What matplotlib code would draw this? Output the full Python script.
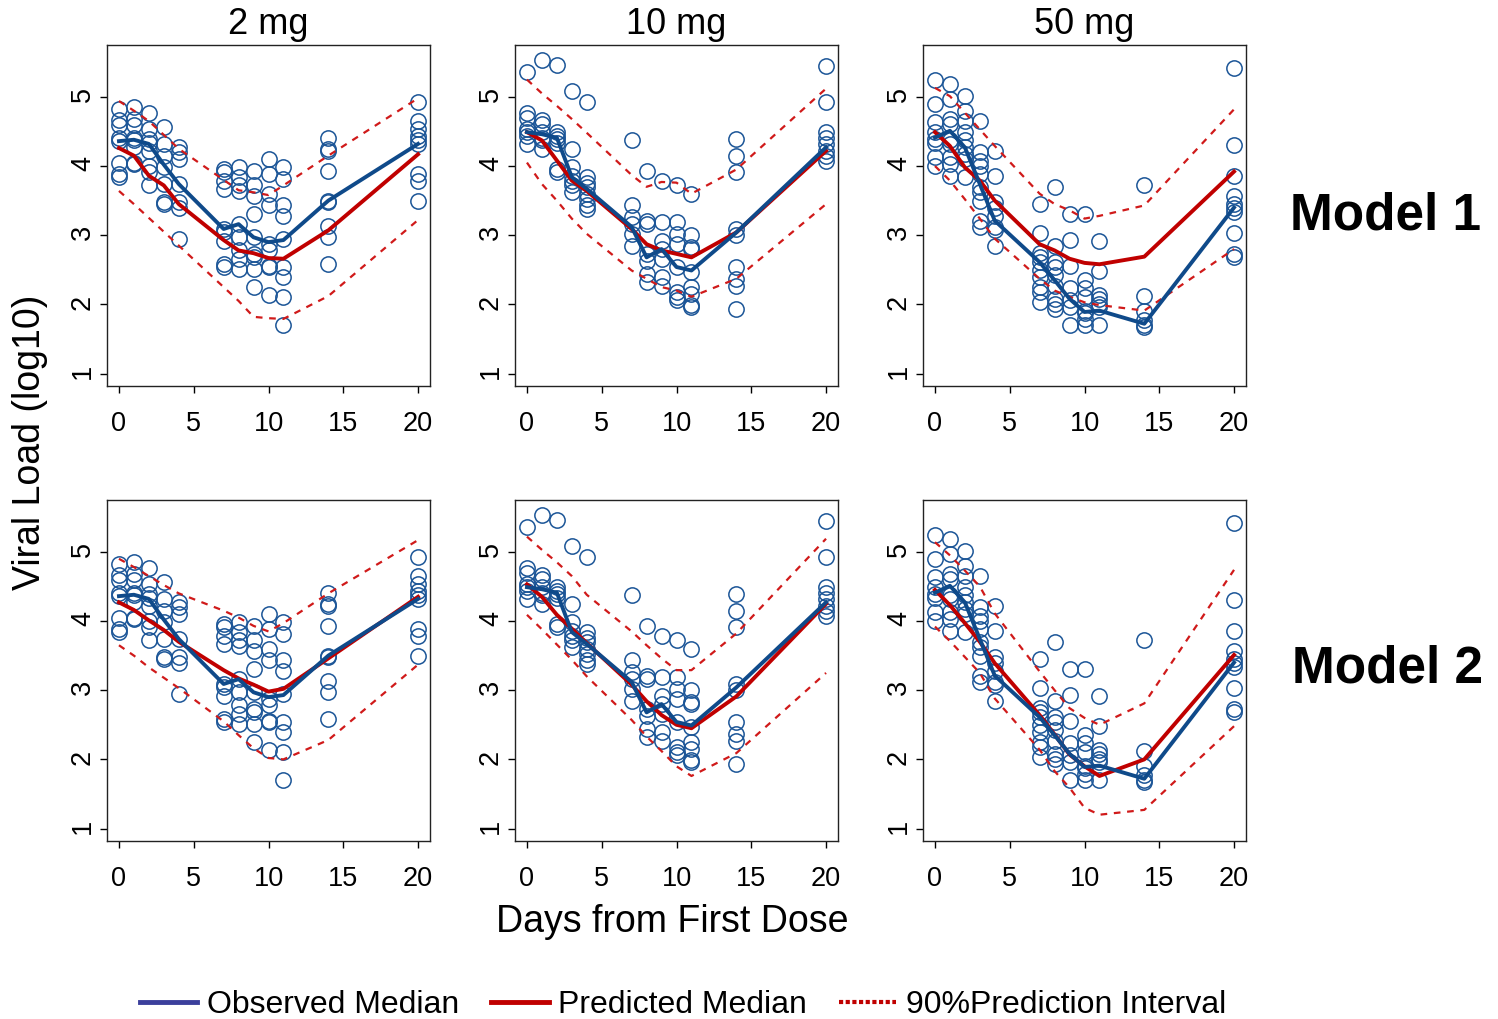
import matplotlib as mpl
mpl.use('Agg')
import matplotlib.pyplot as plt
from matplotlib.lines import Line2D

plt.rcParams['font.family'] = ['Liberation Sans', 'DejaVu Sans']

# dias de muestreo
days = [0, 1, 2, 3, 4, 7, 8, 9, 10, 11, 14, 20]
doses = ['2 mg', '10 mg', '50 mg']
models = ['Model 1', 'Model 2']

# observaciones individuales (una lista por dia)
obs_2mg = [
    [4.82, 4.67, 4.60, 4.40, 4.36, 4.05, 3.88, 3.84],
    [4.86, 4.68, 4.60, 4.41, 4.37, 4.27, 4.05, 4.03],
    [4.77, 4.53, 4.39, 4.34, 4.22, 4.00, 3.91, 3.72],
    [4.56, 4.32, 4.15, 3.98, 3.74, 3.48, 3.45],
    [4.27, 4.20, 4.10, 3.74, 3.48, 3.40, 2.95],
    [3.96, 3.91, 3.79, 3.67, 3.09, 3.04, 2.92, 2.59, 2.54],
    [3.98, 3.84, 3.72, 3.64, 3.16, 2.97, 2.78, 2.66, 2.51],
    [3.93, 3.72, 3.57, 3.31, 2.97, 2.73, 2.68, 2.51, 2.25],
    [4.10, 3.88, 3.60, 3.43, 2.87, 2.78, 2.56, 2.54, 2.13],
    [3.98, 3.81, 3.43, 3.28, 2.95, 2.54, 2.39, 2.10, 1.70],
    [4.41, 4.25, 4.22, 3.93, 3.50, 3.48, 3.14, 2.97, 2.59],
    [4.92, 4.65, 4.53, 4.44, 4.37, 4.32, 3.88, 3.79, 3.50],
]
obs_10mg = [
    [5.36, 4.77, 4.70, 4.53, 4.49, 4.44, 4.32],
    [5.54, 4.67, 4.61, 4.49, 4.41, 4.37, 4.25],
    [5.46, 4.49, 4.44, 4.39, 4.34, 3.96, 3.91],
    [5.09, 4.25, 3.98, 3.86, 3.79, 3.72, 3.62],
    [4.92, 3.84, 3.76, 3.69, 3.60, 3.52, 3.43, 3.38],
    [4.37, 3.43, 3.26, 3.16, 3.02, 2.85],
    [3.93, 3.21, 3.16, 2.73, 2.63, 2.44, 2.32],
    [3.79, 3.19, 2.92, 2.80, 2.66, 2.39, 2.27],
    [3.72, 3.19, 3.02, 2.87, 2.54, 2.18, 2.11, 2.06],
    [3.60, 3.00, 2.83, 2.80, 2.47, 2.25, 2.15, 1.99, 1.96],
    [4.39, 4.15, 3.91, 3.09, 3.00, 2.54, 2.37, 2.27, 1.94],
    [5.45, 4.92, 4.49, 4.41, 4.32, 4.22, 4.15, 4.08],
]
obs_50mg = [
    [5.24, 4.89, 4.63, 4.49, 4.39, 4.34, 4.13, 4.00],
    [5.18, 4.97, 4.68, 4.61, 4.37, 4.32, 4.13, 4.03, 3.86],
    [5.01, 4.80, 4.65, 4.49, 4.37, 4.27, 4.17, 4.10, 3.84],
    [4.65, 4.20, 4.08, 4.00, 3.88, 3.69, 3.62, 3.50, 3.21, 3.12],
    [4.22, 3.86, 3.48, 3.40, 3.28, 3.12, 3.07, 2.85],
    [3.45, 3.03, 2.75, 2.68, 2.61, 2.49, 2.39, 2.25, 2.18, 2.03],
    [3.69, 2.85, 2.61, 2.54, 2.42, 2.27, 2.08, 2.01, 1.94],
    [3.31, 2.93, 2.56, 2.23, 2.06, 1.96, 1.70],
    [3.31, 2.35, 2.23, 2.11, 1.91, 1.87, 1.79, 1.70],
    [2.91, 2.48, 2.13, 2.08, 2.01, 1.96, 1.70],
    [3.73, 2.12, 1.91, 1.77, 1.70, 1.67],
    [5.42, 4.31, 3.86, 3.57, 3.45, 3.40, 3.33, 3.03, 2.73, 2.69],
]

# mediana observada
obs_med_2mg = [4.36, 4.38, 4.32, 4.02, 3.74, 3.09, 3.16, 2.97, 2.90, 2.93, 3.50, 4.32]
obs_med_10mg = [4.49, 4.46, 4.41, 3.84, 3.67, 3.12, 2.68, 2.80, 2.54, 2.49, 3.04, 4.27]
obs_med_50mg = [4.41, 4.51, 4.27, 3.74, 3.21, 2.61, 2.35, 2.08, 1.89, 1.91, 1.72, 3.40]

# modelo 1: mediana predicha e intervalo de prediccion 90%
pred_m1_2mg = [4.26, 4.15, 3.86, 3.72, 3.45, 2.93, 2.78, 2.74, 2.67, 2.66, 3.07, 4.17]
lo_m1_2mg = [3.64, 3.45, 3.25, 3.05, 2.85, 2.25, 2.05, 1.82, 1.80, 1.79, 2.12, 3.22]
hi_m1_2mg = [4.94, 4.80, 4.65, 4.45, 4.25, 3.80, 3.65, 3.62, 3.58, 3.72, 4.15, 4.98]
pred_m1_10mg = [4.49, 4.37, 4.08, 3.79, 3.64, 3.09, 2.87, 2.78, 2.73, 2.68, 3.04, 4.22]
lo_m1_10mg = [4.05, 3.74, 3.50, 3.24, 3.02, 2.49, 2.37, 2.25, 2.20, 2.11, 2.37, 3.45]
hi_m1_10mg = [5.25, 5.05, 4.87, 4.68, 4.48, 3.87, 3.70, 3.77, 3.76, 3.60, 3.95, 5.12]
pred_m1_50mg = [4.49, 4.29, 3.98, 3.79, 3.50, 2.87, 2.78, 2.66, 2.60, 2.58, 2.69, 3.92]
lo_m1_50mg = [4.00, 3.79, 3.52, 3.24, 2.95, 2.37, 2.20, 2.11, 2.03, 1.99, 1.91, 2.80]
hi_m1_50mg = [5.13, 5.01, 4.77, 4.53, 4.29, 3.60, 3.45, 3.36, 3.24, 3.28, 3.43, 4.82]

# modelo 2
pred_m2_2mg = [4.27, 4.16, 4.01, 3.87, 3.70, 3.29, 3.17, 3.08, 2.98, 3.02, 3.46, 4.35]
lo_m2_2mg = [3.65, 3.50, 3.33, 3.18, 3.03, 2.55, 2.35, 2.16, 2.02, 2.00, 2.28, 3.37]
hi_m2_2mg = [4.90, 4.78, 4.65, 4.52, 4.40, 4.15, 4.05, 3.93, 3.85, 3.97, 4.40, 5.17]
pred_m2_10mg = [4.53, 4.35, 4.09, 3.89, 3.68, 3.08, 2.84, 2.64, 2.50, 2.45, 2.91, 4.25]
lo_m2_10mg = [4.09, 3.88, 3.66, 3.44, 3.20, 2.57, 2.33, 2.12, 1.90, 1.76, 2.09, 3.25]
hi_m2_10mg = [5.22, 5.03, 4.85, 4.65, 4.38, 3.85, 3.65, 3.46, 3.29, 3.29, 3.82, 5.19]
pred_m2_50mg = [4.45, 4.23, 3.97, 3.70, 3.39, 2.64, 2.36, 2.07, 1.90, 1.76, 2.00, 3.51]
lo_m2_50mg = [3.92, 3.71, 3.48, 3.25, 2.88, 2.14, 1.83, 1.59, 1.30, 1.20, 1.27, 2.48]
hi_m2_50mg = [5.14, 4.95, 4.73, 4.50, 4.11, 3.27, 3.00, 2.74, 2.60, 2.50, 2.81, 4.74]

obs_all = [obs_2mg, obs_10mg, obs_50mg]
obs_med = [obs_med_2mg, obs_med_10mg, obs_med_50mg]
pred = [[pred_m1_2mg, pred_m1_10mg, pred_m1_50mg], [pred_m2_2mg, pred_m2_10mg, pred_m2_50mg]]
lo = [[lo_m1_2mg, lo_m1_10mg, lo_m1_50mg], [lo_m2_2mg, lo_m2_10mg, lo_m2_50mg]]
hi = [[hi_m1_2mg, hi_m1_10mg, hi_m1_50mg], [hi_m2_2mg, hi_m2_10mg, hi_m2_50mg]]

azul = '#0F4A8A'
azul_pt = '#1B5597'
rojo = '#C00000'
rojo_pi = '#D01A1A'

W, H = 1498, 1019
fig = plt.figure(figsize=(W / 100, H / 100), dpi=100)
lefts = [107, 515, 923]
tops = [45, 500]
aw, ah = 323, 341

for r in range(2):
    for c in range(3):
        ax = fig.add_axes([lefts[c] / W, 1 - (tops[r] + ah) / H, aw / W, ah / H])
        xs, ys = [], []
        for d, vals in zip(days, obs_all[c]):
            xs += [d] * len(vals)
            ys += vals
        ax.plot(xs, ys, 'o', mfc='none', mec=azul_pt, ms=11, mew=1.1, zorder=2)
        ax.plot(days, lo[r][c], color=rojo_pi, lw=1.6, dashes=(3, 3), zorder=3)
        ax.plot(days, hi[r][c], color=rojo_pi, lw=1.6, dashes=(3, 3), zorder=3)
        ax.plot(days, pred[r][c], color=rojo, lw=2.8, zorder=4)
        ax.plot(days, obs_med[c], color=azul, lw=2.8, zorder=5)
        ax.set_xlim(-0.8, 20.8)
        ax.set_ylim(0.82, 5.75)
        ax.set_xticks([0, 5, 10, 15, 20])
        ax.set_yticks([1, 2, 3, 4, 5])
        ax.tick_params(axis='both', labelsize=19.5, length=5, width=1, direction='out')
        ax.tick_params(axis='x', pad=13)
        ax.tick_params(axis='y', labelrotation=90, pad=3)
        for s in ax.spines.values():
            s.set_linewidth(1.0)
            s.set_color('#222222')
        if r == 0:
            ax.set_title(doses[c], fontsize=26, pad=8)

fig.text(1385 / W, 1 - 216 / H, 'Model 1', fontsize=37, fontweight='bold', ha='center', va='center')
fig.text(1388 / W, 1 - 669 / H, 'Model 2', fontsize=37, fontweight='bold', ha='center', va='center')
fig.text(30 / W, 1 - 442 / H, 'Viral Load (log10)', fontsize=27, rotation=90, ha='center', va='center')
fig.text(672 / W, 1 - 922 / H, 'Days from First Dose', fontsize=27, ha='center', va='center')

handles = [Line2D([], [], color='#3B3F9C', lw=3.5),
           Line2D([], [], color=rojo, lw=3.5),
           Line2D([], [], color=rojo, lw=3.0, linestyle=(0, (1, 0.6)))]
fig.legend(handles, ['Observed Median', 'Predicted Median', '90%Prediction Interval'],
           loc='center', bbox_to_anchor=(683 / W, 1 - 1005 / H), ncol=3, frameon=False,
           fontsize=23, handlelength=1.8, handletextpad=0.3, columnspacing=1.0)

plt.savefig('out.png', dpi=100)
